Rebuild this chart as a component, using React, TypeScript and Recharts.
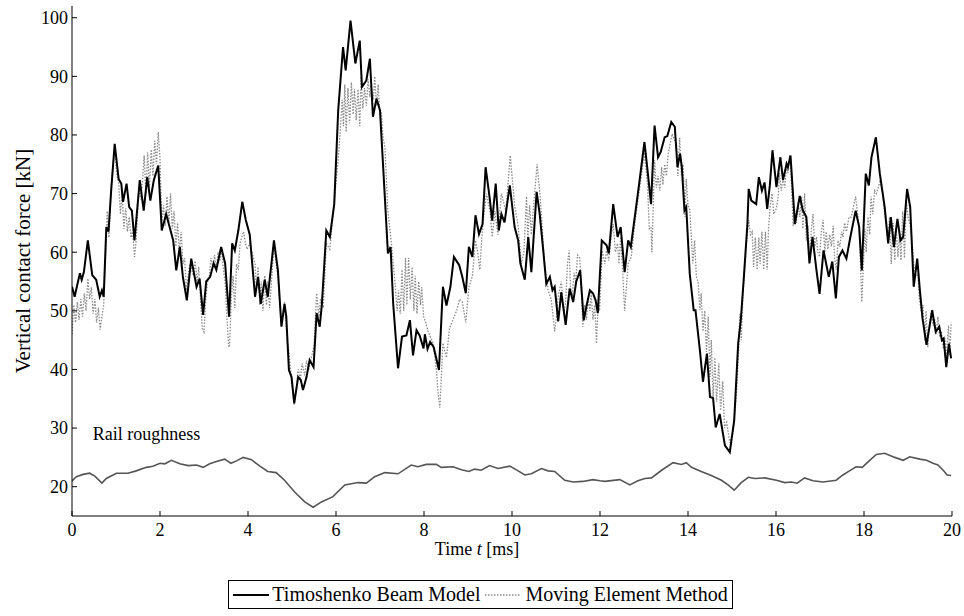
import React from "react";
import { LineChart, Line, XAxis, YAxis, ReferenceDot } from "recharts";

const xTicks = [0, 2, 4, 6, 8, 10, 12, 14, 16, 18, 20];
const yTicks = [20, 30, 40, 50, 60, 70, 80, 90, 100];

const timoT = [0.00,0.06,0.11,0.18,0.22,0.27,0.36,0.46,0.55,0.63,0.68,0.72,0.78,0.83,0.89,0.97,1.06,1.12,1.16,1.24,1.30,1.36,1.42,1.54,1.63,1.71,1.78,1.86,1.96,2.04,2.14,2.24,2.30,2.37,2.45,2.52,2.61,2.71,2.83,2.90,2.98,3.05,3.14,3.22,3.28,3.39,3.48,3.57,3.64,3.70,3.78,3.87,3.95,4.04,4.16,4.23,4.29,4.38,4.45,4.59,4.68,4.76,4.83,4.87,4.93,4.99,5.05,5.14,5.20,5.25,5.33,5.40,5.49,5.56,5.63,5.68,5.78,5.86,5.96,6.05,6.16,6.22,6.33,6.44,6.54,6.59,6.69,6.77,6.84,6.92,7.00,7.11,7.18,7.24,7.30,7.41,7.50,7.60,7.68,7.75,7.83,7.90,7.99,8.02,8.08,8.14,8.22,8.34,8.43,8.51,8.60,8.68,8.80,8.87,8.95,9.02,9.10,9.17,9.25,9.33,9.40,9.49,9.55,9.63,9.70,9.76,9.83,9.95,10.06,10.14,10.19,10.29,10.37,10.44,10.56,10.63,10.71,10.78,10.86,10.92,10.97,11.05,11.12,11.22,11.31,11.39,11.46,11.55,11.63,11.69,11.77,11.84,11.90,11.95,12.04,12.15,12.20,12.30,12.40,12.47,12.56,12.64,12.70,12.79,12.89,13.01,13.08,13.16,13.24,13.32,13.38,13.47,13.53,13.62,13.70,13.76,13.82,13.86,13.92,13.96,14.04,14.13,14.17,14.27,14.34,14.43,14.50,14.57,14.63,14.72,14.84,14.95,15.05,15.14,15.20,15.27,15.35,15.38,15.44,15.55,15.61,15.68,15.74,15.80,15.86,15.92,16.01,16.10,16.16,16.24,16.27,16.33,16.43,16.54,16.61,16.69,16.76,16.83,16.92,16.99,17.08,17.20,17.28,17.36,17.43,17.51,17.60,17.69,17.81,17.89,17.95,18.04,18.11,18.17,18.27,18.36,18.47,18.55,18.61,18.68,18.76,18.83,18.89,18.98,19.05,19.13,19.21,19.27,19.33,19.42,19.55,19.63,19.71,19.77,19.81,19.87,19.93,19.98];
const timoF = [54.1,52.4,54.1,56.4,55.3,56.6,62.0,56.1,55.3,52.4,53.5,52.4,64.3,63.5,70.5,78.5,72.5,71.7,68.6,71.7,67.7,67.1,62.0,72.3,67.1,72.8,68.8,72.3,74.8,63.7,66.5,63.7,62.0,56.9,60.9,55.8,51.8,58.9,54.1,55.5,49.3,55.0,55.8,58.1,57.0,60.9,58.1,49.0,61.5,60.3,63.7,68.6,65.5,63.0,52.4,55.8,51.2,55.3,52.4,62.0,56.9,47.3,51.2,49.0,39.9,38.7,34.2,38.7,38.2,36.5,38.7,41.6,40.4,49.6,47.3,51.2,63.7,62.6,68.2,84.2,95.0,91.0,99.5,92.2,96.1,88.2,89.3,93.0,83.1,86.2,84.2,69.4,59.8,60.9,51.2,40.2,45.6,45.8,48.4,42.4,46.7,45.8,43.6,46.0,43.5,44.7,43.8,39.9,54.1,50.9,54.1,59.2,57.8,55.8,53.0,60.9,59.2,66.3,63.1,64.8,74.5,69.4,65.4,71.7,63.7,66.5,65.1,71.4,64.3,62.0,58.1,55.3,62.6,56.6,70.3,66.5,60.3,54.6,55.8,53.5,54.1,48.2,53.2,47.6,53.8,51.5,55.0,56.9,48.4,50.7,53.5,53.0,51.8,49.6,62.0,61.2,59.8,68.2,62.6,64.3,56.6,62.0,60.9,66.0,71.7,78.8,74.0,68.2,81.6,76.2,77.1,79.6,79.8,82.2,81.4,74.5,76.8,74.5,67.1,67.7,56.3,50.1,50.1,43.3,37.9,42.7,35.3,35.1,30.1,32.4,27.0,25.9,31.3,44.4,48.4,55.8,64.8,70.8,68.8,68.2,72.8,70.5,71.9,67.4,71.4,77.4,71.1,76.2,72.3,75.1,74.5,76.5,64.8,69.6,67.1,66.0,58.1,62.6,56.9,52.9,60.3,55.8,58.4,52.1,59.2,60.3,58.9,62.6,67.1,64.3,56.9,73.4,71.4,76.2,79.6,73.4,67.7,61.5,66.0,60.9,65.7,62.0,62.6,70.8,67.7,54.1,58.9,53.5,48.7,44.2,50.1,46.4,47.3,45.0,45.3,40.4,44.4,41.9];

const memT = [0.00,0.04,0.08,0.12,0.16,0.20,0.24,0.28,0.32,0.36,0.40,0.44,0.48,0.52,0.56,0.60,0.64,0.68,0.72,0.76,0.80,0.84,0.88,0.92,0.97,1.02,1.06,1.10,1.14,1.18,1.22,1.26,1.30,1.34,1.38,1.42,1.46,1.52,1.56,1.60,1.64,1.68,1.72,1.76,1.80,1.84,1.88,1.92,1.96,2.00,2.04,2.08,2.12,2.16,2.20,2.24,2.28,2.32,2.36,2.40,2.44,2.48,2.52,2.56,2.60,2.64,2.68,2.72,2.76,2.80,2.84,2.88,2.92,2.96,3.00,3.04,3.08,3.12,3.16,3.20,3.24,3.28,3.32,3.36,3.40,3.44,3.48,3.52,3.56,3.58,3.62,3.66,3.70,3.74,3.78,3.82,3.86,3.90,3.94,3.98,4.04,4.16,4.19,4.23,4.27,4.30,4.34,4.38,4.42,4.45,4.49,4.59,4.68,4.76,4.83,4.89,4.93,4.99,5.05,5.10,5.14,5.19,5.23,5.29,5.33,5.38,5.44,5.50,5.56,5.61,5.65,5.71,5.78,5.86,5.94,6.05,6.10,6.14,6.17,6.20,6.23,6.27,6.31,6.35,6.39,6.42,6.46,6.50,6.54,6.57,6.61,6.65,6.69,6.73,6.77,6.80,6.85,6.88,6.92,6.96,6.99,7.03,7.07,7.11,7.18,7.26,7.33,7.39,7.42,7.46,7.50,7.54,7.58,7.61,7.65,7.69,7.73,7.77,7.80,7.84,7.88,7.92,7.95,7.99,8.04,8.09,8.21,8.28,8.32,8.36,8.39,8.43,8.51,8.58,8.66,8.74,8.81,8.87,8.95,9.02,9.10,9.17,9.22,9.27,9.31,9.34,9.42,9.50,9.55,9.61,9.68,9.76,9.86,9.96,10.06,10.14,10.21,10.27,10.33,10.36,10.40,10.44,10.48,10.57,10.64,10.74,10.82,10.89,10.97,11.01,11.05,11.12,11.18,11.22,11.26,11.30,11.33,11.37,11.41,11.45,11.49,11.54,11.58,11.61,11.65,11.69,11.73,11.77,11.80,11.84,11.88,11.92,11.96,11.99,12.05,12.11,12.15,12.20,12.26,12.30,12.35,12.40,12.43,12.47,12.52,12.56,12.60,12.64,12.71,12.79,12.91,13.01,13.08,13.12,13.16,13.18,13.24,13.28,13.32,13.36,13.40,13.43,13.47,13.51,13.55,13.64,13.70,13.74,13.77,13.81,13.85,13.89,13.93,13.96,14.00,14.04,14.11,14.15,14.19,14.23,14.27,14.30,14.34,14.38,14.42,14.46,14.50,14.53,14.57,14.61,14.65,14.70,14.74,14.79,14.83,14.88,14.95,15.02,15.10,15.15,15.18,15.21,15.25,15.33,15.38,15.42,15.46,15.49,15.53,15.57,15.61,15.64,15.68,15.72,15.76,15.80,15.83,15.87,15.91,15.95,16.01,16.05,16.08,16.12,16.16,16.20,16.24,16.27,16.31,16.35,16.39,16.43,16.46,16.50,16.54,16.58,16.61,16.65,16.69,16.73,16.76,16.80,16.84,16.88,16.92,16.95,16.99,17.03,17.07,17.11,17.14,17.18,17.22,17.26,17.30,17.33,17.37,17.41,17.45,17.49,17.52,17.56,17.60,17.66,17.71,17.81,17.89,17.95,18.02,18.05,18.09,18.13,18.16,18.20,18.24,18.28,18.36,18.43,18.47,18.51,18.54,18.58,18.62,18.66,18.70,18.73,18.77,18.81,18.84,18.88,18.92,18.96,19.00,19.07,19.15,19.23,19.26,19.30,19.34,19.38,19.41,19.45,19.49,19.53,19.57,19.61,19.64,19.68,19.72,19.76,19.80,19.84,19.87,19.92,19.95,19.98];
const memF = [46,51,48,51.5,48.5,52,49,53,50,55.5,52,54,49.5,52,48,50.5,46.8,49,51,58,67,62.5,70,74,77.5,73,72,66.5,70,64,67.5,63.5,66,62.5,63.5,59.2,62,71,69,72,76.5,70,77,71,77.5,73,79,75,80.5,76,65,68,64.5,69.5,65,70,64,67,61,65,60,63.5,58,59,53.5,56,58,57,56,58.5,55,57.5,52,47,46.4,52,55,56,59,57.5,59.5,57,60,58.5,60.5,57,55,49,44,43.8,52,56,50.5,58,57,61.5,62.6,63.5,61.5,60.5,61.5,58,54,57.5,51,55,50,56,51,55,50.5,61,55.8,47.3,51.5,45,43,38,34,37,40,38.5,41,39,41.5,40,42,44,53,49,52,50.5,61.5,60.5,67,76,81,86,81.5,88.6,80.5,88,82,89,83.5,87.8,82.5,87.8,81.5,90,84.5,88,85,89.5,86.5,88.5,86,90,85,88.6,84.5,84,79.5,78,67,61.5,55.8,50,53.5,49.5,57,50,59,51,59,52,57.5,50,56,49.5,55,51,54,49,48,46.5,44.5,40,36,33.5,38,44.5,42,47,48.5,50,52,51.5,48,54,56,62,60,57,62,65,70,67,62.6,67,63,70,67,76.5,68,64.5,58,60,69.5,62,68,63,67,75,69.5,58,53.5,52,46.5,49,52.5,55,49.5,51.5,58,60.3,54,52.5,56.5,55,59.5,59,53,47.3,51,48.5,52,50,53,48.5,51,44.4,52,50,60.3,58,60.3,58.6,63,64.8,60,61.5,58,62.6,56,50,54,58.1,59.2,64.8,71.5,77,71.5,64,64.3,60,75.7,71,73,70.5,74.5,71.5,75,73,76.8,80.2,79,78.5,73,79.5,73,75,66,72.5,68,67.2,58.1,62,55.8,55,50.1,53,46.5,50,43,49,38.7,45,35,42,34.5,41,33,38,30,31,27.5,29.2,35.5,43,49.5,45,53,61.5,65.5,63,63.5,57.5,62.5,57,62.5,58,63.5,57,63.5,57,64,68,70,66.5,67.5,69.5,73.5,70.5,72.5,71,75,73.5,76.5,72,64.5,67,65,68.5,66,69.5,64,70,62,64.5,58.6,63.5,66.5,61,62.6,60,59.2,63.5,65.5,60,63.5,60.5,63,61,64.5,59,57,62,60.9,63.5,62.6,65,63.5,66,66,69.5,64.3,51.5,64,60,66,63,69.5,66.5,70.5,70,72,70,66.5,64,61.5,66,58,65,58.6,64.5,59.2,63,58.6,67,59,69,66,64,56.3,56,52,50,51,45,50,43.8,48,50,47.5,48.5,46,49,45.5,46.5,43.5,45.3,42,47.5,42.5,48];

const roughT = [0.00,0.10,0.25,0.40,0.52,0.68,0.78,1.01,1.27,1.46,1.69,1.84,2.00,2.11,2.26,2.45,2.64,2.83,2.98,3.13,3.28,3.47,3.61,3.74,3.89,4.08,4.27,4.45,4.64,4.83,5.06,5.29,5.48,5.67,5.93,6.20,6.50,6.69,6.88,7.11,7.41,7.71,7.86,8.05,8.28,8.39,8.66,8.85,9.02,9.15,9.30,9.49,9.68,9.95,10.14,10.29,10.44,10.67,10.82,10.97,11.20,11.39,11.61,11.84,12.00,12.11,12.45,12.68,12.86,13.02,13.17,13.40,13.66,13.85,13.96,14.08,14.30,14.53,14.76,14.91,15.05,15.21,15.37,15.52,15.74,16.01,16.20,16.35,16.48,16.65,16.84,17.07,17.37,17.52,17.67,17.82,17.96,18.13,18.28,18.47,18.70,18.89,19.04,19.27,19.42,19.57,19.68,19.80,19.89,19.98];
const roughF = [21.0,21.7,22.1,22.3,21.8,20.6,21.4,22.3,22.3,22.7,23.3,23.5,24.0,23.9,24.5,23.9,23.6,23.7,23.3,23.9,24.3,24.7,24.0,24.4,25.0,24.6,23.5,22.6,22.4,21.1,19.1,17.4,16.5,17.4,18.3,20.3,20.7,20.6,21.7,22.4,22.2,23.7,23.4,23.8,23.8,23.3,23.4,22.9,22.6,23.0,22.8,23.6,23.1,23.5,22.7,22.0,22.2,23.1,22.7,22.6,21.1,20.8,20.9,21.2,21.0,20.9,21.2,20.3,21.0,21.4,21.5,22.8,24.1,23.8,24.1,23.3,22.6,21.9,21.1,20.3,19.4,20.7,21.6,21.4,21.5,21.1,20.7,20.8,20.6,21.5,21.0,20.8,21.1,22.0,22.7,23.4,23.3,24.5,25.5,25.7,25.0,24.5,25.1,24.7,24.5,24.0,23.7,22.8,22.0,21.9];

const zip = (ts: number[], vs: number[]) => ts.map((t, i) => ({ t, v: vs[i] }));
const timoData = zip(timoT, timoF);
const memData = zip(memT, memF);
const roughData = zip(roughT, roughF);

const FONT = "'Liberation Serif', 'Times New Roman', serif";

const XLabel = (props: any) => {
  const vb = props.viewBox || {};
  const cx = vb.x + vb.width / 2 - 35;
  return (
    <text x={cx} y={vb.y + 39} textAnchor="middle" fontFamily={FONT} fontSize={18} fill="#000">
      <tspan>Time </tspan>
      <tspan fontStyle="italic">t</tspan>
      <tspan> [ms]</tspan>
    </text>
  );
};

const YLabel = (props: any) => {
  const vb = props.viewBox || {};
  const cx = vb.x + 23;
  const cy = vb.y + vb.height / 2;
  return (
    <text
      x={cx}
      y={cy}
      transform={`rotate(-90, ${cx}, ${cy})`}
      textAnchor="middle"
      dominantBaseline="central"
      fontFamily={FONT}
      fontSize={21}
      fill="#000"
    >
      Vertical contact force [kN]
    </text>
  );
};

export default function App() {
  return (
    <div style={{ position: "absolute", left: 0, top: 0, width: 964, height: 616, background: "#fff" }}>
      <LineChart width={964} height={616} margin={{ top: 6, right: 12, bottom: 60, left: 0 }}>
        <XAxis
          dataKey="t"
          type="number"
          domain={[0, 20]}
          ticks={xTicks}
          allowDataOverflow
          height={40}
          tickSize={-5}
          tickMargin={12}
          axisLine={{ stroke: "#000", strokeWidth: 1 }}
          tickLine={{ stroke: "#000", strokeWidth: 1 }}
          tick={{ fill: "#000", fontSize: 18, fontFamily: FONT }}
          label={<XLabel />}
        />
        <YAxis
          type="number"
          domain={[15, 102]}
          ticks={yTicks}
          allowDataOverflow
          width={72}
          tickSize={-5}
          tickMargin={9}
          axisLine={{ stroke: "#000", strokeWidth: 1 }}
          tickLine={{ stroke: "#000", strokeWidth: 1 }}
          tick={{ fill: "#000", fontSize: 18, fontFamily: FONT }}
          label={<YLabel />}
        />
        <Line
          data={roughData}
          dataKey="v"
          type="linear"
          stroke="#555"
          strokeWidth={1.6}
          dot={false}
          isAnimationActive={false}
        />
        <Line
          data={memData}
          dataKey="v"
          type="linear"
          stroke="#8a8a8a"
          strokeWidth={1.3}
          strokeDasharray="1.5 1.5"
          dot={false}
          isAnimationActive={false}
        />
        <Line
          data={timoData}
          dataKey="v"
          type="linear"
          stroke="#000"
          strokeWidth={2}
          dot={false}
          isAnimationActive={false}
        />
        <ReferenceDot
          x={0.36}
          y={29}
          r={0}
          fill="none"
          stroke="none"
          label={{ value: "Rail roughness", position: "right", offset: 5, fill: "#000", fontSize: 18, fontFamily: FONT }}
        />
      </LineChart>
      <div
        style={{
          position: "absolute",
          left: 228,
          top: 580,
          width: 503,
          height: 27,
          border: "1px solid #000",
          display: "flex",
          alignItems: "center",
          justifyContent: "center",
          fontFamily: FONT,
          fontSize: 20,
          color: "#000",
          whiteSpace: "nowrap",
          boxSizing: "content-box",
        }}
      >
        <svg width={36} height={10} style={{ marginRight: 3 }}>
          <line x1={0} y1={5} x2={36} y2={5} stroke="#000" strokeWidth={2} />
        </svg>
        <span>Timoshenko Beam Model</span>
        <svg width={36} height={10} style={{ marginLeft: 5, marginRight: 4 }}>
          <line x1={0} y1={5} x2={36} y2={5} stroke="#8a8a8a" strokeWidth={1.3} strokeDasharray="1.5 1.5" />
        </svg>
        <span>Moving Element Method</span>
      </div>
    </div>
  );
}
